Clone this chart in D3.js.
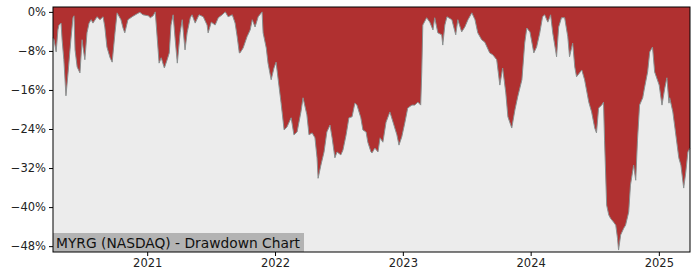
<!DOCTYPE html>
<html>
<head>
<meta charset="utf-8">
<script src="https://cdn.jsdelivr.net/npm/d3@7"></script>
<style>
html,body{margin:0;padding:0;background:#fff;}
svg{display:block;font-family:"DejaVu Sans",sans-serif;}
</style>
</head>
<body>
<svg id="chart" width="700" height="280"></svg>
<script>
const dates = [
"2020-04-07","2020-04-10","2020-04-16","2020-04-21","2020-04-24","2020-04-30","2020-05-03","2020-05-08","2020-05-14","2020-05-20",
"2020-05-28","2020-06-03","2020-06-06","2020-06-09","2020-06-15","2020-06-23","2020-06-29","2020-07-02","2020-07-07","2020-07-13",
"2020-07-19","2020-07-25","2020-07-30","2020-08-11","2020-08-19","2020-08-28","2020-09-02","2020-09-08","2020-09-17","2020-09-23",
"2020-10-01","2020-10-07","2020-10-18","2020-10-24","2020-10-29","2020-11-07","2020-11-19","2020-12-03","2020-12-11","2020-12-20",
"2021-01-04","2021-01-10","2021-01-18","2021-01-24","2021-01-30","2021-02-04","2021-02-10","2021-02-19","2021-02-27","2021-03-05",
"2021-03-10","2021-03-16","2021-03-22","2021-03-28","2021-04-05","2021-04-11","2021-04-19","2021-04-25","2021-05-04","2021-05-09",
"2021-05-18","2021-05-29","2021-06-10","2021-06-21","2021-06-24","2021-07-03","2021-07-14","2021-07-23","2021-08-03","2021-08-12",
"2021-08-20","2021-09-01","2021-09-09","2021-09-15","2021-09-21","2021-09-23","2021-10-02","2021-10-13","2021-10-22","2021-10-28",
"2021-11-05","2021-11-14","2021-11-25","2021-11-28","2021-12-07","2021-12-12","2021-12-21","2021-12-29",
"2022-01-04","2022-01-12","2022-01-18","2022-01-27","2022-02-04","2022-02-16","2022-02-24","2022-03-05","2022-03-16","2022-03-22",
"2022-04-02","2022-04-08","2022-04-17","2022-04-25","2022-05-01","2022-05-04","2022-05-12","2022-05-21","2022-05-29","2022-06-07",
"2022-06-13","2022-06-21","2022-06-27","2022-07-08","2022-07-14","2022-07-23","2022-07-31","2022-08-09","2022-08-17","2022-08-23",
"2022-09-03","2022-09-09","2022-09-18","2022-09-23","2022-10-02","2022-10-05","2022-10-13","2022-10-22","2022-10-28","2022-11-05",
"2022-11-14","2022-11-25","2022-12-04","2022-12-15","2022-12-21","2022-12-29",
"2023-01-07","2023-01-15","2023-01-27","2023-02-04","2023-02-13","2023-02-21","2023-02-24","2023-02-27","2023-03-10","2023-03-19",
"2023-03-28","2023-04-02","2023-04-11","2023-04-22","2023-04-25","2023-05-01","2023-05-07","2023-05-21","2023-06-01","2023-06-07",
"2023-06-18","2023-06-27","2023-07-06","2023-07-17","2023-07-26","2023-08-03","2023-08-14","2023-08-23","2023-09-06","2023-09-15",
"2023-09-26","2023-10-05","2023-10-13","2023-10-22","2023-10-28","2023-11-08","2023-11-17","2023-11-25","2023-12-07","2023-12-15",
"2023-12-21","2023-12-30",
"2024-01-10","2024-01-18","2024-01-27","2024-02-04","2024-02-10","2024-02-19","2024-02-27","2024-03-04","2024-03-12","2024-03-15",
"2024-03-21","2024-03-29","2024-04-07","2024-04-16","2024-04-21","2024-04-30","2024-05-06","2024-05-11","2024-05-26","2024-06-03",
"2024-06-15","2024-06-23","2024-07-02","2024-07-07","2024-07-13","2024-07-22","2024-07-27","2024-07-30","2024-08-05","2024-08-11",
"2024-08-16","2024-08-25","2024-08-31","2024-09-05","2024-09-08","2024-09-14","2024-09-23","2024-09-28","2024-10-07","2024-10-12",
"2024-10-21","2024-10-27","2024-11-01","2024-11-07","2024-11-16","2024-11-21","2024-11-30","2024-12-06","2024-12-14","2024-12-20",
"2025-01-02","2025-01-10","2025-01-18","2025-01-24","2025-01-30","2025-02-01","2025-02-10","2025-02-16","2025-02-27","2025-03-05",
"2025-03-13","2025-03-19","2025-03-25","2025-03-31"
];
const drawdown = [
-5.3,-5.7,-8.2,-3.7,-2.7,-2.3,-5.7,-9.8,-17.2,-12.5,
-5.7,-1.2,-0.8,-7.8,-11.3,-12.5,-5.7,-7.4,-9.8,-4.3,
-2.3,-1.6,-2.3,-1.0,-1.6,-1.0,-3.1,-7.2,-9.4,-10.3,
-4.3,-0.2,-1.6,-3.3,-4.3,-1.6,-1.0,-0.4,-0.1,-0.6,
-0.8,-1.2,-0.8,0.0,-5.7,-10.5,-9.4,-11.5,-9.8,-8.4,
-2.7,-0.6,-5.7,-10.5,-4.3,-1.6,-7.8,-4.3,-1.2,-0.6,
-2.3,-0.6,-1.0,-2.7,-4.3,-2.1,-2.7,-1.2,-0.6,0.0,
-1.0,-0.6,-2.3,-5.1,-8.4,-8.4,-7.4,-5.1,-3.7,-1.6,
-3.1,-1.0,0.0,-4.3,-7.4,-10.5,-13.9,-11.5,
-10.3,-15.0,-18.5,-24.2,-23.6,-21.7,-25.2,-24.6,-20.5,-17.6,
-21.1,-25.2,-24.8,-25.8,-29.9,-34.1,-31.4,-28.7,-24.6,-23.2,
-25.8,-29.9,-28.7,-29.3,-28.3,-25.2,-21.7,-21.5,-18.7,-19.1,
-21.7,-24.2,-24.6,-26.7,-28.7,-28.9,-27.9,-28.7,-25.8,-26.7,
-22.6,-20.5,-22.6,-25.2,-27.3,-25.6,
-22.6,-19.7,-19.1,-19.1,-18.5,-19.1,-12.3,-2.7,-1.2,-2.1,
-3.7,-1.2,-4.3,-4.7,-6.8,-2.7,-1.0,-1.6,-4.7,-1.6,
-4.1,-3.1,-1.6,-0.2,-1.6,-4.3,-5.7,-6.2,-8.4,-8.8,
-9.8,-15.0,-11.5,-16.6,-21.5,-23.8,-20.1,-17.4,-13.9,-6.4,
-3.3,-4.1,
-8.4,-7.2,-4.3,-1.0,-0.6,-2.1,-0.6,-4.3,-7.8,-9.2,
-3.1,-1.2,-1.2,-5.1,-9.2,-6.4,-11.3,-13.3,-11.9,-13.9,
-18.5,-20.5,-23.8,-24.8,-19.7,-19.1,-18.5,-26.3,-39.6,-41.6,
-42.3,-43.1,-43.7,-46.4,-48.8,-45.7,-44.3,-43.7,-41.0,-35.5,
-31.4,-34.5,-26.3,-19.1,-17.6,-15.6,-12.3,-8.2,-7.2,-12.3,
-15.0,-19.1,-15.6,-13.5,-18.7,-17.6,-20.5,-23.8,-29.9,-31.4,
-36.1,-32.8,-28.7,-27.9
];
const yTicks = [0,-8,-16,-24,-32,-40,-48];
const xTickYears = ["2021","2022","2023","2024","2025"];
const titleText = "MYRG (NASDAQ) - Drawdown Chart";

const parse = d3.timeParse("%Y-%m-%d");
const data = dates.map((d,i)=>({date:parse(d), v:drawdown[i]}));

const svg = d3.select("#chart");
const m = {left:53, right:690, top:7, bottom:252};

const x = d3.scaleTime().domain(d3.extent(data,d=>d.date)).range([m.left,m.right]);
const y = d3.scaleLinear().domain([-49.2,1.0]).range([m.bottom,m.top]);

svg.append("rect").attr("x",m.left).attr("y",m.top)
  .attr("width",m.right-m.left).attr("height",m.bottom-m.top)
  .attr("fill","#ececec");

svg.append("path").datum(data)
  .attr("d",d3.area().x(d=>x(d.date)).y0(m.top).y1(d=>y(d.v)))
  .attr("fill","#b03030");

svg.append("path").datum(data)
  .attr("d",d3.line().x(d=>x(d.date)).y(d=>y(d.v)))
  .attr("fill","none").attr("stroke","#8a9090").attr("stroke-width",1);

// title box
const tg = svg.append("g");
tg.append("rect").attr("x",m.left).attr("y",233).attr("width",251).attr("height",m.bottom-233)
  .attr("fill","#b3b3b3");
tg.append("text").attr("x",56).attr("y",247.5).attr("font-size","13.8px").attr("fill","#111")
  .text(titleText);

// axes
const yAxis = d3.axisLeft(y).tickValues(yTicks).tickSize(4).tickPadding(3)
  .tickFormat(d=>(d<0?"\u2212"+Math.abs(d):d)+"%");
const gy = svg.append("g").attr("transform",`translate(${m.left},0)`).call(yAxis);
const xTickDates = xTickYears.map(s=>parse(s+"-01-01"));
const xAxis = d3.axisBottom(x).tickValues(xTickDates).tickSize(4).tickPadding(3)
  .tickFormat(d3.timeFormat("%Y"));
const gx = svg.append("g").attr("transform",`translate(0,${m.bottom})`).call(xAxis);
[gx,gy].forEach(g=>{
  g.select(".domain").remove();
  g.selectAll("text").attr("font-size","11.5px").attr("fill","#222").attr("font-family","DejaVu Sans");
  g.selectAll("line").attr("stroke","#000");
});
svg.append("rect").attr("x",m.left).attr("y",m.top)
  .attr("width",m.right-m.left).attr("height",m.bottom-m.top)
  .attr("fill","none").attr("stroke","#000").attr("stroke-width",1);
</script>
</body>
</html>
